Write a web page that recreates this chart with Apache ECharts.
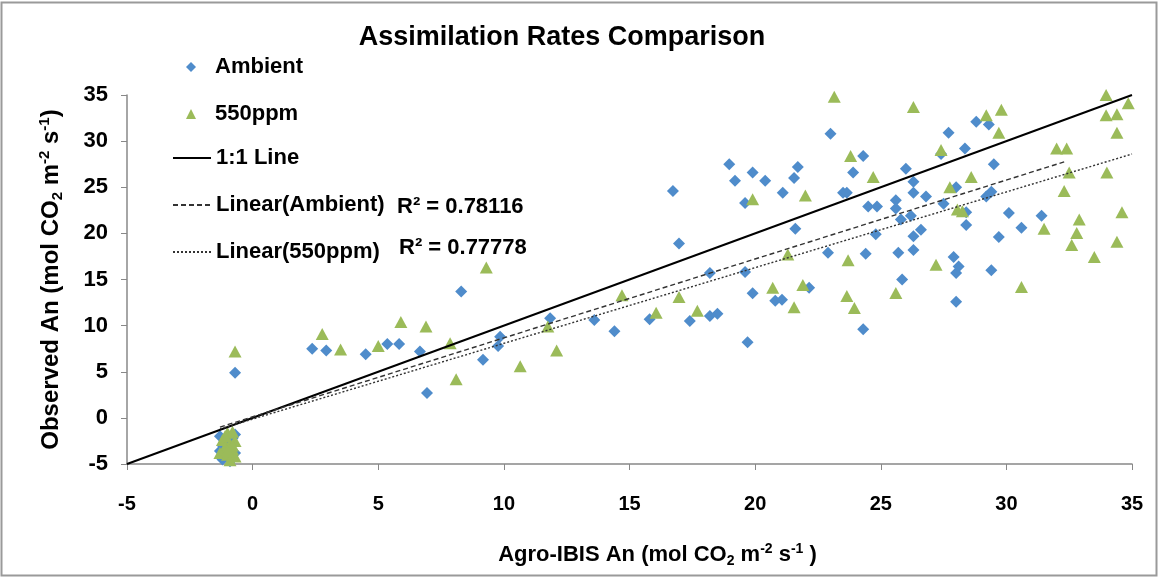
<!DOCTYPE html>
<html>
<head>
<meta charset="utf-8">
<script src="https://cdn.jsdelivr.net/npm/echarts@6/dist/echarts.min.js"></script>
<style>
html,body{margin:0;padding:0;background:#fff;}
#chart{width:1160px;height:579px;}
</style>
</head>
<body>
<div id="chart"></div>
<script>
// ---- data ----
const ambientPoints = [
  [-1.3,-2.0],[-1.2,-3.0],[-1.0,-3.5],[-0.8,-2.2],[-0.7,-3.8],[-1.1,-4.2],[-0.9,-4.7],[-1.3,-3.6],[-0.8,-4.4],[-1.0,-2.6],[-0.7,-1.8],[-1.2,-4.5],
  [-0.7,4.9],[2.37,7.5],[2.93,7.3],[4.5,6.9],[5.36,8.0],[5.83,8.0],[6.66,7.2],[6.94,2.7],[8.3,13.7],[9.17,6.3],
  [9.77,7.8],[9.85,8.8],[11.84,10.8],[13.6,10.6],[14.4,9.4],[15.8,10.7],[16.73,24.6],[16.97,18.9],[17.4,10.5],
  [18.2,11.05],[18.5,11.3],[18.2,15.7],[18.97,27.5],[19.2,25.7],[19.6,23.3],[19.6,15.8],[19.7,8.2],[19.9,13.5],
  [19.9,26.6],[20.4,25.7],[21.1,24.4],[21.55,26.0],[21.7,27.2],[21.6,20.5],[20.8,12.7],[21.07,12.8],[22.15,14.1],
  [22.9,17.9],[23.0,30.8],[23.5,24.4],[23.65,24.4],[23.9,26.6],[24.3,28.4],[24.3,9.6],[24.4,17.8],[24.5,22.9],
  [24.85,22.9],[24.8,19.9],[25.6,23.6],[25.6,22.7],[25.7,17.9],[25.8,21.5],[25.85,15.0],[26.0,27.0],[26.2,21.9],
  [26.3,25.6],[26.3,24.4],[26.3,19.7],[26.3,18.2],[26.6,20.4],[26.8,24.0],[27.5,23.2],[27.4,28.6],[27.7,30.9],
  [27.9,17.45],[28.0,25.0],[28.0,15.7],[28.1,16.4],[28.0,12.6],[28.35,29.2],[28.4,22.3],[28.4,20.9],[28.8,32.1],
  [29.2,24.0],[29.3,31.8],[29.4,24.5],[29.4,16.0],[29.5,27.5],[29.7,19.6],[30.1,22.2],[30.6,20.6],[31.4,21.9]
];
const ppm550Points = [
  [-1.0,-1.6],[-0.8,-1.5],[-1.2,-2.4],[-0.9,-2.8],[-0.7,-2.5],[-1.1,-3.2],[-0.8,-3.4],[-1.3,-3.8],[-1.0,-4.0],[-0.7,-4.2],[-0.9,-4.6],[-1.1,-2.0],[-0.8,-3.0],[-1.0,-3.6],
  [-0.7,7.2],[2.77,9.1],[3.5,7.4],[5.0,7.8],[5.9,10.4],[6.9,9.9],[7.86,8.1],[8.1,4.2],[9.3,16.3],[10.65,5.6],
  [11.75,9.9],[12.1,7.3],[14.7,13.3],[16.06,11.4],[16.97,13.1],[17.7,11.6],[19.9,23.7],[20.7,14.1],[21.3,17.7],
  [21.55,12.0],[21.9,14.4],[22.0,24.1],[23.15,34.8],[23.65,13.2],[23.7,17.1],[23.8,28.4],[23.95,11.9],[24.7,26.1],
  [25.6,13.55],[26.3,33.7],[27.2,16.6],[27.4,29.05],[27.75,25.0],[28.05,22.6],[28.25,22.4],[28.6,26.1],[29.2,32.8],
  [29.7,30.9],[29.8,33.4],[30.6,14.2],[31.5,20.5],[32.0,29.2],[32.3,24.6],[32.4,29.2],[32.5,26.6],[32.6,18.75],
  [32.8,20.05],[32.9,21.5],[33.5,17.45],[33.97,35.0],[33.97,32.8],[34.0,26.6],[34.4,32.9],[34.4,30.9],[34.4,19.1],
  [34.6,22.3],[34.85,34.1]
];
const oneToOneLine = [[-5,-5],[35,35]];
const ambientFitLine = [[-1.3,-1.0],[32.3,27.75]];
const ppm550FitLine = [[-1.3,-1.2],[35,28.6]];
const r2Labels = ['R\u00B2 = 0.78116','R\u00B2 = 0.77778'];
const seriesNames = ['Ambient','550ppm','1:1 Line','Linear(Ambient)','Linear(550ppm)'];
const axisMin = -5, axisMax = 35, axisStep = 5;

const FONT = '"Liberation Sans", Arial, sans-serif';
const chart = echarts.init(document.getElementById('chart'), null, {renderer:'canvas'});

function richFor(size){
  return {
    sub:{fontSize:size, fontWeight:'bold', fontFamily:FONT, color:'#000', verticalAlign:'bottom', lineHeight:size},
    sup:{fontSize:size, fontWeight:'bold', fontFamily:FONT, color:'#000', verticalAlign:'top', lineHeight:size}
  };
}
const legendText = {fontFamily:FONT, fontWeight:'bold', fontSize:22, color:'#000', lineHeight:22};

chart.setOption({
  backgroundColor:'#fff',
  animation:false,
  title:{
    text:'Assimilation Rates Comparison',
    left:557, top:19, textAlign:'center',
    textStyle:{fontFamily:FONT, fontWeight:'bold', fontSize:27, color:'#000'}
  },
  legend:[
    {
      orient:'vertical', left:186, top:56, padding:0,
      itemWidth:10, itemHeight:10, itemGap:25,
      data:[
        {name:seriesNames[0], icon:'diamond'},
        {name:seriesNames[1], icon:'triangle'}
      ],
      textStyle:Object.assign({padding:[0,0,0,14]}, legendText),
      selectedMode:false
    },
    {
      orient:'vertical', left:172, top:147, padding:0,
      itemWidth:38, itemHeight:10, itemGap:25,
      data:[
        {name:seriesNames[2], itemStyle:{opacity:0}},
        {name:seriesNames[3], itemStyle:{opacity:0}},
        {name:seriesNames[4], itemStyle:{opacity:0}}
      ],
      textStyle:legendText,
      selectedMode:false
    }
  ],
  graphic:[
    {type:'rect', shape:{x:1.5,y:2.5,width:1155,height:573}, style:{fill:'none', stroke:'#9a9a9a', lineWidth:2}, silent:true, z:-1},
    {type:'text', left:397, top:196, style:{text:r2Labels[0], font:'bold 22px '+FONT, fill:'#000'}},
    {type:'text', left:399, top:237, style:{text:r2Labels[1], font:'bold 22px '+FONT, fill:'#000'}}
  ],
  grid:{left:127, right:28, top:95, bottom:115, containLabel:false},
  xAxis:{
    type:'value', min:axisMin, max:axisMax, interval:axisStep,
    splitLine:{show:false},
    axisLine:{onZero:false, lineStyle:{color:'#888', width:1.5}},
    axisTick:{inside:false, length:6, lineStyle:{color:'#888'}},
    axisLabel:{margin:30, fontFamily:FONT, fontWeight:'bold', fontSize:20, color:'#000'},
    name:'Agro-IBIS An (mol CO{sub|2} m{sup|-2} s{sup|-1} )',
    nameLocation:'middle', nameGap:78,
    nameTextStyle:{fontFamily:FONT, fontWeight:'bold', fontSize:22, color:'#000', lineHeight:26, padding:[0,0,0,56], rich:richFor(14)}
  },
  yAxis:{
    type:'value', min:axisMin, max:axisMax, interval:axisStep,
    splitLine:{show:false},
    axisLine:{onZero:false, lineStyle:{color:'#888', width:1.5}},
    axisTick:{inside:false, length:6, lineStyle:{color:'#888'}},
    axisLabel:{margin:19, fontFamily:FONT, fontWeight:'bold', fontSize:22, color:'#000'},
    name:'Observed An (mol CO{sub|2} m{sup|-2} s{sup|-1})',
    nameLocation:'middle', nameGap:62,
    nameTextStyle:{fontFamily:FONT, fontWeight:'bold', fontSize:24, color:'#000', lineHeight:28, rich:richFor(15)}
  },
  series:[
    {name:seriesNames[0], type:'scatter', data:ambientPoints, symbol:'diamond', symbolSize:[12,12],
      itemStyle:{color:'#4F8CCB', opacity:1}, z:2},
    {name:seriesNames[1], type:'scatter', data:ppm550Points, symbol:'triangle', symbolSize:[13,12],
      itemStyle:{color:'#9BBB59', opacity:1}, z:3},
    {name:seriesNames[2], type:'line', data:oneToOneLine, showSymbol:false, symbol:'none',
      lineStyle:{color:'#000', width:2}, itemStyle:{color:'#000'}, z:5},
    {name:seriesNames[3], type:'line', data:ambientFitLine, showSymbol:false, symbol:'none',
      lineStyle:{color:'#333', width:1.4, type:[5,3]}, itemStyle:{color:'#333'}, z:5},
    {name:seriesNames[4], type:'line', data:ppm550FitLine, showSymbol:false, symbol:'none',
      lineStyle:{color:'#333', width:1.4, type:[2,2]}, itemStyle:{color:'#333'}, z:5}
  ]
});
</script>
</body>
</html>
